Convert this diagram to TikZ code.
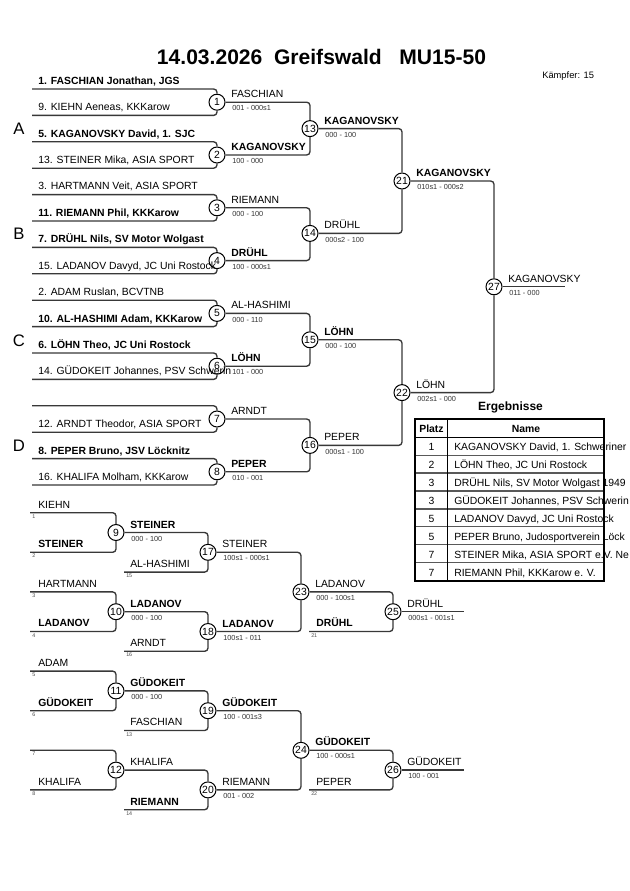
\documentclass[tikz,border=0pt]{standalone}
\usepackage{fontspec}
\setmainfont{Liberation Sans}
\newcommand\bkWin[4]{\path (#1) ++(14,-4.5) node[#2] (#1n) {#3} (#1) ++(15,8.6) node[sc] (#1s) {#4};}
\newcommand\bkWinN[3]{\path (#1) ++(14,-4.5) node[#2] (#1n) {#3};}
\newcommand\bkIn[4]{\path (#1) ++(#2,-4.6) node[#3] (#1t) {#4};}
\newcommand\bkSeed[2]{\path (#1) ++(2,5.6) node[sd] (#1d) {#2};}
\begin{document}
\begin{tikzpicture}[x=0.75pt,y=-0.75pt,
  br/.style={draw=black!78, line width=1pt, rounded corners=2.5pt},
  mc/.style={circle, draw=black, fill=white, line width=0.75pt, inner sep=0pt, minimum size=12pt, font=\fontsize{7.8}{8}\selectfont},
  nm/.style={anchor=base west, inner sep=0pt, font=\fontsize{7.8}{9}\selectfont},
  nb/.style={anchor=base west, inner sep=0pt, font=\fontsize{7.8}{9}\selectfont\bfseries},
  sc/.style={anchor=base west, inner sep=0pt, font=\fontsize{5.5}{6}\selectfont, text=black!80},
  sd/.style={anchor=base west, inner sep=0pt, font=\fontsize{4}{5}\selectfont, text=black!70},
  pool/.style={anchor=base, inner sep=0pt, font=\fontsize{12.5}{14}\selectfont},
  tb/.style={anchor=base, inner sep=0pt, font=\fontsize{7.8}{9}\selectfont\bfseries},
  tc/.style={anchor=base, inner sep=0pt, font=\fontsize{7.8}{9}\selectfont},
  tn/.style={anchor=base west, inner sep=0pt, font=\fontsize{7.8}{9}\selectfont},
  rowline/.style={draw=black!65, line width=1pt},
]
\path[use as bounding box, fill=white] (0,0) rectangle (630,891);

% title
\node[anchor=base, inner sep=0pt, font=\fontsize{15.8}{18}\selectfont\bfseries] (title) at (321.5,64.5) {14.03.2026\ \ Greifswald\ \ \ MU15-50};
\node[anchor=base west, inner sep=0pt, font=\fontsize{7}{8}\selectfont] (kf) at (542,79) {Kämpfer: 15};

% pool letters
\node[pool] (pA) at (19,135) {A};
\node[pool] (pB) at (19,239.8) {B};
\node[pool] (pC) at (19,346.2) {C};
\node[pool] (pD) at (19,451.8) {D};

% main bracket start coordinates
\coordinate (a0) at (32,89);
\coordinate (a1) at (32,115.4);
\coordinate (a2) at (32,141.8);
\coordinate (a3) at (32,168.2);
\coordinate (a4) at (32,194.6);
\coordinate (a5) at (32,221);
\coordinate (a6) at (32,247.4);
\coordinate (a7) at (32,273.8);
\coordinate (a8) at (32,300.2);
\coordinate (a9) at (32,326.6);
\coordinate (a10) at (32,353);
\coordinate (a11) at (32,379.4);
\coordinate (a12) at (32,405.8);
\coordinate (a13) at (32,432.2);
\coordinate (a14) at (32,458.6);
\coordinate (a15) at (32,485);
\coordinate (f27) at (565,286.8);

% main match circles
\node[mc] (m1) at (217,102.2) {1};
\node[mc] (m2) at (217,155) {2};
\node[mc] (m3) at (217,207.8) {3};
\node[mc] (m4) at (217,260.6) {4};
\node[mc] (m5) at (217,313.4) {5};
\node[mc] (m6) at (217,366.2) {6};
\node[mc] (m7) at (217,419) {7};
\node[mc] (m8) at (217,471.8) {8};
\node[mc] (m13) at (310,128.6) {13};
\node[mc] (m14) at (310,233.4) {14};
\node[mc] (m15) at (310,339.8) {15};
\node[mc] (m16) at (310,445.4) {16};
\node[mc] (m21) at (402,181) {21};
\node[mc] (m22) at (402,392.6) {22};
\node[mc] (m27) at (494,286.8) {27};

% main bracket lines
\draw[br] (a0) -| (m1);  \draw[br] (a1) -| (m1);
\draw[br] (a2) -| (m2);  \draw[br] (a3) -| (m2);
\draw[br] (a4) -| (m3);  \draw[br] (a5) -| (m3);
\draw[br] (a6) -| (m4);  \draw[br] (a7) -| (m4);
\draw[br] (a8) -| (m5);  \draw[br] (a9) -| (m5);
\draw[br] (a10) -| (m6); \draw[br] (a11) -| (m6);
\draw[br] (a12) -| (m7); \draw[br] (a13) -| (m7);
\draw[br] (a14) -| (m8); \draw[br] (a15) -| (m8);
\draw[br] (m1) -| (m13); \draw[br] (m2) -| (m13);
\draw[br] (m3) -| (m14); \draw[br] (m4) -| (m14);
\draw[br] (m5) -| (m15); \draw[br] (m6) -| (m15);
\draw[br] (m7) -| (m16); \draw[br] (m8) -| (m16);
\draw[br] (m13) -| (m21); \draw[br] (m14) -| (m21);
\draw[br] (m15) -| (m22); \draw[br] (m16) -| (m22);
\draw[br] (m21) -| (m27); \draw[br] (m22) -| (m27);
\draw[br] (m27) -- (f27);

% round 1 names
\bkIn{a0}{6}{nb}{1. FASCHIAN Jonathan, JGS}
\bkIn{a1}{6}{nm}{9. KIEHN Aeneas, KKKarow}
\bkIn{a2}{6}{nb}{5. KAGANOVSKY David, 1. SJC}
\bkIn{a3}{6}{nm}{13. STEINER Mika, ASIA SPORT}
\bkIn{a4}{6}{nm}{3. HARTMANN Veit, ASIA SPORT}
\bkIn{a5}{6}{nb}{11. RIEMANN Phil, KKKarow}
\bkIn{a6}{6}{nb}{7. DRÜHL Nils, SV Motor Wolgast}
\bkIn{a7}{6}{nm}{15. LADANOV Davyd, JC Uni Rostock}
\bkIn{a8}{6}{nm}{2. ADAM Ruslan, BCVTNB}
\bkIn{a9}{6}{nb}{10. AL-HASHIMI Adam, KKKarow}
\bkIn{a10}{6}{nb}{6. LÖHN Theo, JC Uni Rostock}
\bkIn{a11}{6}{nm}{14. GÜDOKEIT Johannes, PSV Schwerin}
\bkIn{a13}{6}{nm}{12. ARNDT Theodor, ASIA SPORT}
\bkIn{a14}{6}{nb}{8. PEPER Bruno, JSV Löcknitz}
\bkIn{a15}{6}{nm}{16. KHALIFA Molham, KKKarow}

% main winners
\bkWin{m1}{nm}{FASCHIAN}{001 - 000s1}
\bkWin{m2}{nb}{KAGANOVSKY}{100 - 000}
\bkWin{m3}{nm}{RIEMANN}{000 - 100}
\bkWin{m4}{nb}{DRÜHL}{100 - 000s1}
\bkWin{m5}{nm}{AL-HASHIMI}{000 - 110}
\bkWin{m6}{nb}{LÖHN}{101 - 000}
\bkWinN{m7}{nm}{ARNDT}
\bkWin{m8}{nb}{PEPER}{010 - 001}
\bkWin{m13}{nb}{KAGANOVSKY}{000 - 100}
\bkWin{m14}{nm}{DRÜHL}{000s2 - 100}
\bkWin{m15}{nb}{LÖHN}{000 - 100}
\bkWin{m16}{nm}{PEPER}{000s1 - 100}
\bkWin{m21}{nb}{KAGANOVSKY}{010s1 - 000s2}
\bkWin{m22}{nm}{LÖHN}{002s1 - 000}
\bkWin{m27}{nm}{KAGANOVSKY}{011 - 000}

% repechage coordinates
\coordinate (b0) at (30,512.7);
\coordinate (b1) at (30,552.3);
\coordinate (b2) at (30,591.9);
\coordinate (b3) at (30,631.5);
\coordinate (b4) at (30,671.1);
\coordinate (b5) at (30,710.7);
\coordinate (b6) at (30,750.3);
\coordinate (b7) at (30,789.9);
\coordinate (c15) at (124,572.1);
\coordinate (c16) at (124,651.3);
\coordinate (c13) at (124,730.5);
\coordinate (c14) at (124,809.7);
\coordinate (d21) at (309,631.5);
\coordinate (d22) at (309,789.9);
\coordinate (f25) at (464,611.7);
\coordinate (f26) at (464,770.1);

\node[mc] (m9) at (116,532.5) {9};
\node[mc] (m10) at (116,611.7) {10};
\node[mc] (m11) at (116,690.9) {11};
\node[mc] (m12) at (116,770.1) {12};
\node[mc] (m17) at (208,552.3) {17};
\node[mc] (m18) at (208,631.5) {18};
\node[mc] (m19) at (208,710.7) {19};
\node[mc] (m20) at (208,789.9) {20};
\node[mc] (m23) at (301,591.9) {23};
\node[mc] (m24) at (301,750.3) {24};
\node[mc] (m25) at (393,611.7) {25};
\node[mc] (m26) at (393,770.1) {26};

\draw[br] (b0) -| (m9);  \draw[br] (b1) -| (m9);
\draw[br] (b2) -| (m10); \draw[br] (b3) -| (m10);
\draw[br] (m9) -| (m17); \draw[br] (c15) -| (m17);
\draw[br] (m10) -| (m18); \draw[br] (c16) -| (m18);
\draw[br] (m17) -| (m23); \draw[br] (m18) -| (m23);
\draw[br] (m23) -| (m25); \draw[br] (d21) -| (m25);
\draw[br] (m25) -- (f25);
\draw[br] (b4) -| (m11); \draw[br] (b5) -| (m11);
\draw[br] (b6) -| (m12); \draw[br] (b7) -| (m12);
\draw[br] (m11) -| (m19); \draw[br] (c13) -| (m19);
\draw[br] (m12) -| (m20); \draw[br] (c14) -| (m20);
\draw[br] (m19) -| (m24); \draw[br] (m20) -| (m24);
\draw[br] (m24) -| (m26); \draw[br] (d22) -| (m26);
\draw[br] (m26) -- (f26);

% repechage names
\bkIn{b0}{8}{nm}{KIEHN}
\bkIn{b1}{8}{nb}{STEINER}
\bkIn{b2}{8}{nm}{HARTMANN}
\bkIn{b3}{8}{nb}{LADANOV}
\bkIn{b4}{8}{nm}{ADAM}
\bkIn{b5}{8}{nb}{GÜDOKEIT}
\bkIn{b7}{8}{nm}{KHALIFA}
\bkIn{c15}{6}{nm}{AL-HASHIMI}
\bkIn{c16}{6}{nm}{ARNDT}
\bkIn{c13}{6}{nm}{FASCHIAN}
\bkIn{c14}{6}{nb}{RIEMANN}
\bkIn{d21}{7}{nb}{DRÜHL}
\bkIn{d22}{7}{nm}{PEPER}

\bkSeed{b0}{1}
\bkSeed{b1}{2}
\bkSeed{b2}{3}
\bkSeed{b3}{4}
\bkSeed{b4}{5}
\bkSeed{b5}{6}
\bkSeed{b6}{7}
\bkSeed{b7}{8}
\bkSeed{c15}{15}
\bkSeed{c16}{16}
\bkSeed{c13}{13}
\bkSeed{c14}{14}
\bkSeed{d21}{21}
\bkSeed{d22}{22}

\bkWin{m9}{nb}{STEINER}{000 - 100}
\bkWin{m10}{nb}{LADANOV}{000 - 100}
\bkWin{m17}{nm}{STEINER}{100s1 - 000s1}
\bkWin{m18}{nb}{LADANOV}{100s1 - 011}
\bkWin{m23}{nm}{LADANOV}{000 - 100s1}
\bkWin{m25}{nm}{DRÜHL}{000s1 - 001s1}
\bkWin{m11}{nb}{GÜDOKEIT}{000 - 100}
\bkWinN{m12}{nm}{KHALIFA}
\bkWin{m19}{nb}{GÜDOKEIT}{100 - 001s3}
\bkWin{m20}{nm}{RIEMANN}{001 - 002}
\bkWin{m24}{nb}{GÜDOKEIT}{100 - 000s1}
\bkWin{m26}{nm}{GÜDOKEIT}{100 - 001}

% results table
\node[anchor=base, inner sep=0pt, font=\fontsize{9}{10}\selectfont\bfseries] (erg) at (510.5,410.7) {Ergebnisse};
\foreach \yy in {455.2,473.1,491,508.9,526.8,544.7,562.6} {\draw[rowline] (415,\yy) -- (604,\yy);}
\draw[draw=black, line width=1.1pt] (415,437.3) -- (604,437.3);
\draw[draw=black, line width=1.1pt] (447.7,419.3) -- (447.7,580.6);
\draw[draw=black, line width=1.5pt] (415,419.3) rectangle (604,580.6);
\node[tb] (hp) at (431.5,432.8) {Platz};
\node[tb] (hn) at (526,432.8) {Name};
\node[tc] (r1p) at (431.5,450.9) {1};
\node[tc] (r2p) at (431.5,468.8) {2};
\node[tc] (r3p) at (431.5,486.7) {3};
\node[tc] (r4p) at (431.5,504.6) {3};
\node[tc] (r5p) at (431.5,522.5) {5};
\node[tc] (r6p) at (431.5,540.4) {5};
\node[tc] (r7p) at (431.5,558.3) {7};
\node[tc] (r8p) at (431.5,576.2) {7};
\node[tn] (r1n) at (454,450.9) {KAGANOVSKY David, 1. Schweriner};
\node[tn] (r2n) at (454,468.8) {LÖHN Theo, JC Uni Rostock};
\node[tn] (r3n) at (454,486.7) {DRÜHL Nils, SV Motor Wolgast 1949};
\node[tn] (r4n) at (454,504.6) {GÜDOKEIT Johannes, PSV Schwerin};
\node[tn] (r5n) at (454,522.5) {LADANOV Davyd, JC Uni Rostock};
\node[tn] (r6n) at (454,540.4) {PEPER Bruno, Judosportverein Löck};
\node[tn] (r7n) at (454,558.3) {STEINER Mika, ASIA SPORT e.V. Ne};
\node[tn] (r8n) at (454,576.2) {RIEMANN Phil, KKKarow e. V.};
\end{tikzpicture}
\end{document}
